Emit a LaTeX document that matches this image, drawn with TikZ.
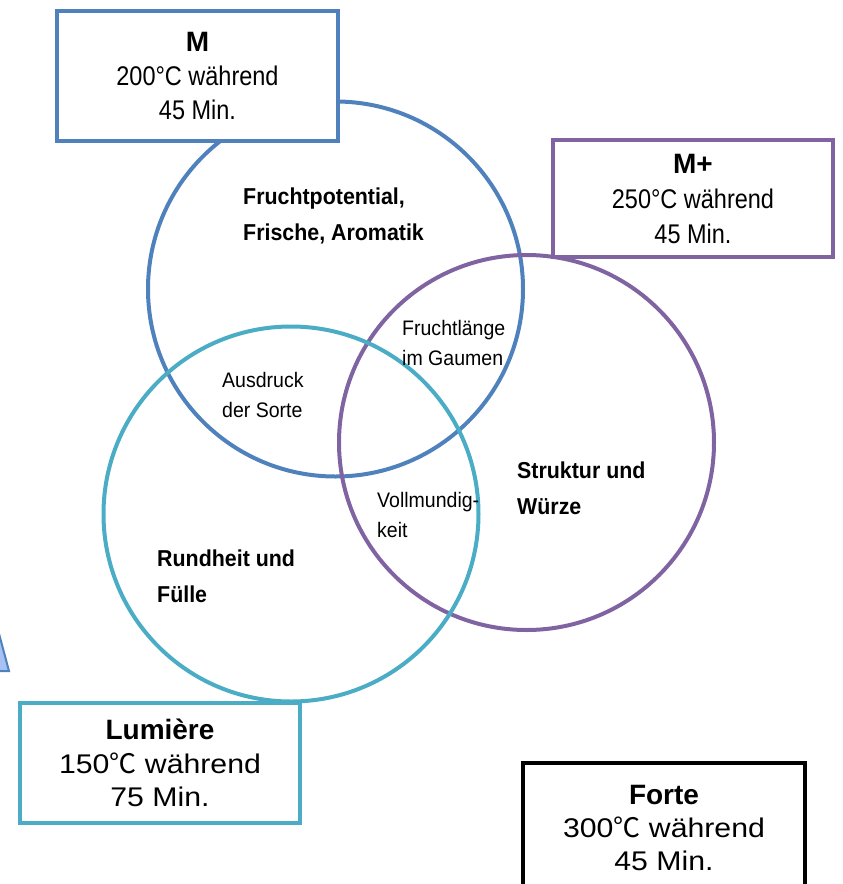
\documentclass[tikz,border=0pt]{standalone}
\usepackage{fontspec}
\setmainfont{Liberation Sans}
\newfontfamily\cjk{Noto Sans CJK SC}
\newfontfamily\narrow[FakeStretch=0.87]{Liberation Sans}
\newfontfamily\wide[FakeStretch=1.12]{Liberation Sans}
\newfontfamily\lbl[FakeStretch=0.93]{Liberation Sans}
\definecolor{mblue}{HTML}{4F81BD}
\definecolor{mpurple}{HTML}{8064A2}
\definecolor{mcyan}{HTML}{4BACC6}
\definecolor{tri}{HTML}{A7C1F5}
\tikzset{
  ring/.style={circle,draw=#1,line width=4pt,minimum size=375pt,inner sep=0pt},
  tbox/.style={draw=#1,fill=white,line width=4.5pt,inner sep=0pt,align=center,
    minimum width=281pt},
  lab/.style={anchor=west,align=left,inner sep=0pt},
  boldlab/.style={lab,font=\lbl\bfseries\fontsize{23}{36}\selectfont},
  thinlab/.style={lab,font=\lbl\fontsize{21}{30}\selectfont},
}
\newcommand{\ttl}[1]{{\normalfont\bfseries\fontsize{28}{34}\selectfont #1}}
\begin{document}
\begin{tikzpicture}[x=1pt,y=-1pt]
   \useasboundingbox (0,0) rectangle (843,884);
   \clip (0,0) rectangle (843,884);

   \node[ring=mblue]   (cm)  at (335.5,289) {};
   \node[ring=mpurple] (cmp) at (526.5,442.5) {};
   \node[ring=mcyan]   (cl)  at (291,514) {};

   \node[boldlab] (frucht) at (243,216)   {Fruchtpotential,\\Frische, Aromatik};
   \node[boldlab] (struk)  at (517,488)   {Struktur und\\Würze};
   \node[boldlab] (rund)   at (157,576)   {Rundheit und\\Fülle};
   \node[thinlab] (laenge) at (402,343)   {Fruchtlänge\\im Gaumen};
   \node[thinlab] (sorte)  at (222,395)   {Ausdruck\\der Sorte};
   \node[thinlab] (voll)   at (377,515)   {Vollmundig-\\keit};

   \node[tbox=mblue,minimum height=130pt,font=\narrow\fontsize{27}{34}\selectfont]
      (m) at (197.5,76) {\ttl{M}\\200°C während\\45 Min.};
   \node[tbox=mpurple,minimum height=117pt,minimum width=280pt,
      font=\narrow\fontsize{27}{35}\selectfont]
      (mplus) at (693,198.5) {\ttl{M+}\\250°C während\\45 Min.};
   \node[tbox=mcyan,minimum height=120pt,minimum width=280pt,
      font=\wide\fontsize{27}{33.5}\selectfont]
      (lum) at (160,763) {\ttl{Lumière}\\150{\cjk ℃} während\\75 Min.};
   \node[tbox=black,minimum height=130pt,minimum width=282pt,
      font=\wide\fontsize{27}{33}\selectfont]
      (forte) at (664,828) {\ttl{Forte}\\300{\cjk ℃} während\\45 Min.};

%   \node (pfeil) at () {};
   \filldraw[fill=tri,draw=mblue,line width=2pt] (-10,600) -- (9,671) -- (-10,671) -- cycle;
\end{tikzpicture}
\end{document}
